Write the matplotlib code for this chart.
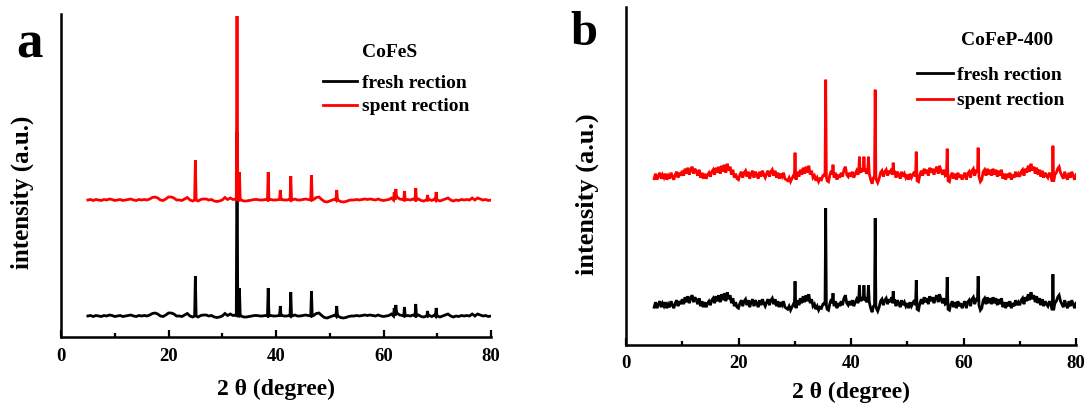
import numpy as np
import matplotlib
matplotlib.use("Agg")
import matplotlib.pyplot as plt
from matplotlib.lines import Line2D

plt.rcParams['font.family'] = ['Liberation Serif', 'DejaVu Serif']
plt.rcParams['font.weight'] = 'bold'

# ---------------- data ----------------
x_ticks = [0, 20, 40, 60, 80]
x_minor = [10, 30, 50, 70]
series_labels = ["fresh rection", "spent rection"]
series_colors = ["black", "red"]

# Panel a : CoFeS  (background sampled every 0.5 deg from 5 to 80, relative to baseline)
cofes_start, cofes_step = 5.0, 0.5
cofes_background = [
    0, 0.5, -0.5, 0.5, 0, -0.5, 0.5, 0, 1, 0.5,
    -0.5, 0, 0.5, -0.5, 0, 0.5, 1, 0, -0.5, 0.5,
    0, 0.5, 0, 1, 2.5, 3, 2, 0, -0.5, 1,
    3, 3, 2, 0, 0, -0.5, 1, 2.5, 0, -1,
    0, -1, 0.5, 1, 1, 0, 0.5, -1, -1.5, -1,
    0, 2.5, 0.5, 2, 0.5, 1, 0, 0, -1, -1,
    -0.5, 0, 0.5, 0.5, 0, 0, 0.5, 0, 0.5, 0,
    0, 0.5, 0.5, 0, 0, 0.5, 0, 1, 0, 0,
    0.5, 1, 0.5, 0, 0.5, 2.5, 3, 0.5, -1.5, -2,
    -1, 0, 1, 0, -1.5, -2, -1.5, -0.5, 0, 0,
    0.5, 0, 0.5, 1, 0.5, 1, 0.5, 0, 1, 0,
    -0.5, 0, 0.5, 2, 0, 3, 1, 0.5, 0, 0.5,
    0, 1, 0, 1, -0.5, -1, 0, 0.5, -0.5, 1,
    0, -1, 0, 1, 2, 0, -1, 0, -0.5, 0.5,
    0, 0.5, 0, 2, 0, 2, 1, 0, 0.5, -0.5,
    0,
]
cofes_peak_pos = [25.0, 32.75, 33.2, 38.55, 40.8, 42.75, 46.6, 51.3, 62.0, 62.3, 63.9, 66.0, 68.2, 69.8]
cofes_peak_top = [40, 184, 28, 28, 10, 24, 25, 10, 8, 11, 9, 12, 5, 8]
cofes_baselines = [21, 137]          # fresh, spent

# Panel b : CoFeP-400 (background sampled every 0.25 deg from 5 to 80)
cofep_start, cofep_step = 5.0, 0.25
cofep_background = [
    -2, 3, -3, 1, 4, -2, 2, -1, 3, -3, 1, -2, 4, 0, -3, 2, 5, -1, 4, 1,
    6, 1, 8, 3, 9, 2, 7, 10, 3, 8, 5, 1, 7, -1, 4, -2, 3, -2, 2, 4,
    0, 5, 7, 2, 9, 4, 10, 3, 11, 5, 12, 4, 13, 6, 10, 2, 7, -1, 3, -2,
    -3, 2, 5, -1, 4, 6, 0, 5, -2, 3, 6, -1, 5, 2, -2, 5, 0, 6, 2, -1,
    3, 6, 0, 5, 7, 1, 6, -1, 4, -2, 3, 0, 4, -2, -3, -4, -1, -5, -2, 1,
    0, -3, 5, 0, 7, 2, 9, 3, 10, 4, 11, 2, 6, -1, 1, -4, -1, -5, -2, -3,
    1, 2, 0, -4, -5, 2, 6, 2, -1, 4, -3, 2, -1, 4, 0, 7, 10, 2, 0, 4,
    0, 5, -1, 3, 6, 2, 6, 4, 8, 5, 8, 3, 6, 3, -3, -7, -1, 0, -3, -6,
    -2, 4, 6, 0, 5, 7, 1, 6, 3, 8, 2, 6, -1, 5, 2, -2, 5, 0, 3, -1,
    2, -3, 3, -1, 2, 5, 0, -4, -5, 2, 6, 1, 8, 3, 7, 1, 9, 4, 8, 2,
    7, 10, 3, 11, 6, 2, 7, 1, 2, -4, -5, 1, 4, -2, 3, -3, 4, -1, 2, -3,
    1, 4, -3, 3, 5, -1, 6, 8, 1, 7, 4, 0, -5, -3, 5, 7, 1, 8, 2, 7,
    1, 8, 2, 7, 0, 6, 1, 7, -2, 3, -3, 3, -1, 4, -3, 2, -1, 5, 0, 3,
    0, 5, 7, 1, 8, 4, 11, 5, 13, 6, 10, 3, 9, 2, 7, 0, 6, -1, 4, 1,
    -1, 4, 1, -4, -5, 2, 4, 8, 10, 4, 1, -2, 5, 0, -3, 4, -1, 5, 1, -3,
    2,
]
cofep_peak_pos = [30.05, 35.5, 36.8, 41.5, 42.3, 43.1, 44.3, 47.5, 51.6, 57.1, 62.6, 75.9]
cofep_peak_top = [24, 97, 12, 20, 20, 20, 87, 14, 25, 28, 29, 31]
cofep_baselines = [39.5, 168]        # fresh, spent


def build_pattern(start, step, background, peak_pos, peak_top, hw):
    bg = np.asarray(background, float)
    x = start + step * np.arange(len(bg))
    keep = np.ones(len(x), bool)
    px, py = [], []
    for p, t in zip(peak_pos, peak_top):
        i = int(round((p - start) / step))
        keep &= np.abs(x - p) > hw
        px += [p - hw, p, p + hw]
        py += [bg[i], t, bg[i]]
    xs = np.concatenate([x[keep], px])
    ys = np.concatenate([bg[keep], py])
    order = np.argsort(xs, kind="stable")
    return xs[order], ys[order]


W, H = 1089, 406
fig = plt.figure(figsize=(W / 100, H / 100), dpi=100)


def fx(x):
    return x / W


def fy(y):
    return 1 - y / H


def style_axes(ax, ymax, label_size, ylab_xy, xlabelpad):
    ax.set_xlim(0, 80)
    ax.set_ylim(0, ymax)
    for s in ["top", "right"]:
        ax.spines[s].set_visible(False)
    for s in ["left", "bottom"]:
        ax.spines[s].set_linewidth(1.8)
    ax.set_xticks(x_ticks)
    ax.set_xticks(x_minor, minor=True)
    ax.set_yticks([])
    ax.tick_params(axis="x", which="major", direction="in", length=5, width=1.6,
                   labelsize=13.5, pad=7)
    ax.tick_params(axis="x", which="minor", direction="in", length=3, width=1.6)
    for lab in ax.get_xticklabels():
        lab.set_fontweight("bold")
    ax.set_xlabel("2 θ (degree)", fontsize=17, fontweight="bold", labelpad=xlabelpad)
    ax.set_ylabel("intensity (a.u.)", fontsize=label_size, fontweight="bold")
    ax.yaxis.set_label_coords(*ylab_xy)


def legend(title, title_xy, x0, x1, xt, rows_line, rows_base, size):
    fig.text(fx(title_xy[0]), fy(title_xy[1]), title, ha="center", va="baseline",
             fontsize=size, fontweight="bold")
    for lab, col, yl, yb in zip(series_labels, series_colors, rows_line, rows_base):
        fig.add_artist(Line2D([fx(x0), fx(x1)], [fy(yl), fy(yl)], color=col, lw=2,
                              transform=fig.transFigure))
        fig.text(fx(xt), fy(yb), lab, ha="left", va="baseline", fontsize=size,
                 fontweight="bold")


# ---------------- panel a ----------------
ax_a = fig.add_axes([fx(61), fy(338), fx(491) - fx(61), fy(15) - fy(338)])
xa, ya = build_pattern(cofes_start, cofes_step, cofes_background,
                       cofes_peak_pos, cofes_peak_top, hw=0.14)
for base, col, lab in zip(cofes_baselines, series_colors, series_labels):
    ax_a.plot(xa, ya + base, color=col, lw=2.0, label=lab, solid_joinstyle="miter")
style_axes(ax_a, 323, 18, (-0.062, 0.45), 10)
fig.text(fx(16), fy(57), "a", fontsize=38, fontweight="bold", ha="left", va="baseline")
legend("CoFeS", (390, 57), 323, 357, 362, (82, 106), (88, 111), 14)

# ---------------- panel b ----------------
ax_b = fig.add_axes([fx(626), fy(345.7), fx(1076) - fx(626), fy(8) - fy(345.7)])
xb, yb = build_pattern(cofep_start, cofep_step, cofep_background,
                       cofep_peak_pos, cofep_peak_top, hw=0.12)
for base, col, lab in zip(cofep_baselines, series_colors, series_labels):
    ax_b.plot(xb, yb + base, color=col, lw=2.0, label=lab, solid_joinstyle="miter")
style_axes(ax_b, 337.7, 19, (-0.060, 0.45), 7)
fig.text(fx(570), fy(45), "b", fontsize=35, fontweight="bold", ha="left", va="baseline")
legend("CoFeP-400", (1007, 45), 917, 953, 957, (73.5, 99.5), (80, 105), 14)

fig.savefig("out.png", dpi=100)
